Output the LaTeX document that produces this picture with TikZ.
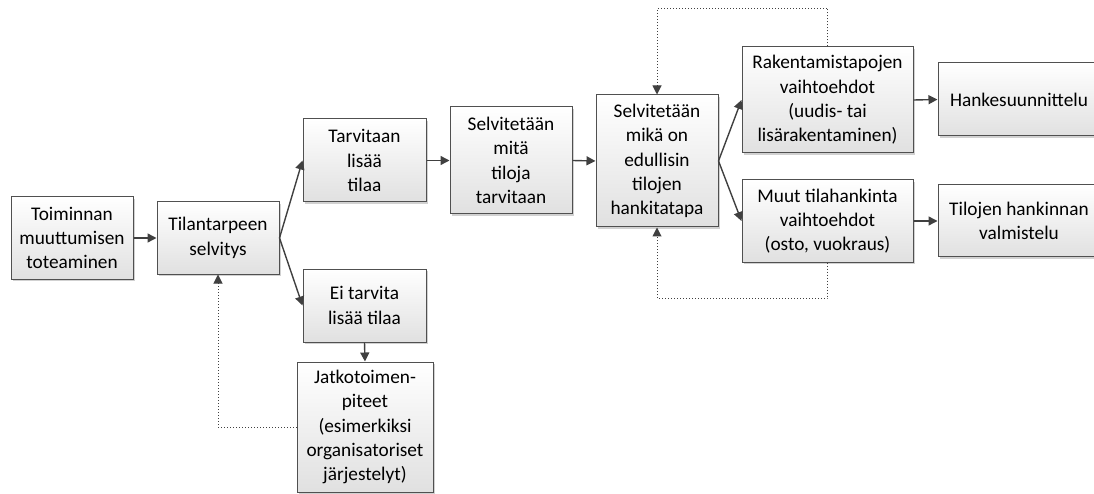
\documentclass[tikz,border=0pt]{standalone}
\usepackage{fontspec}
\setmainfont{Carlito}
\usetikzlibrary{arrows.meta,shadows}
\definecolor{edge}{HTML}{505050}
\definecolor{arr}{HTML}{404040}
\tikzset{
  box/.style={draw=edge, line width=1pt, rectangle, inner sep=0pt, align=center,
    top color=white, bottom color=black!12, font=\fontsize{19.3}{24.3}\selectfont,
    drop shadow={shadow xshift=2pt, shadow yshift=-2pt, fill=black, opacity=0.18}},
  flow/.style={draw=arr, line width=1.4pt, -{Triangle[length=9pt,width=9pt]}},
  loop/.style={draw=arr, line width=1pt, dotted, -{Triangle[length=9pt,width=9pt]}}
}
\begin{document}
\begin{tikzpicture}[x=1pt,y=-1pt]
\useasboundingbox (0,0) rectangle (1094,494);
\begin{scope}
\clip (0,0) rectangle (1094,494);
\node[box, minimum width=122pt, minimum height=82pt] (toim) at (72,238) {Toiminnan\\muuttumisen\\toteaminen};
\node[box, minimum width=122pt, minimum height=72pt] (tilan) at (218,238) {Tilantarpeen\\selvitys};
\node[box, minimum width=123pt, minimum height=83pt] (tarv) at (364.5,160.5) {Tarvitaan\\lisää\\tilaa};
\node[box, minimum width=123pt, minimum height=73pt] (ei) at (364.5,305.5) {Ei tarvita\\lisää tilaa};
\node[box, minimum width=136pt, minimum height=130pt] (jatko) at (365,427) {Jatkotoimen-\\piteet\\(esimerkiksi\\organisatoriset\\järjestelyt)};
\node[box, minimum width=122pt, minimum height=107pt] (mita) at (511,160.5) {Selvitetään\\mitä\\tiloja\\tarvitaan};
\node[box, minimum width=122pt, minimum height=132pt] (mika) at (657,161) {Selvitetään\\mikä on\\edullisin\\tilojen\\hankitatapa};
\node[box, minimum width=171pt, minimum height=106pt] (rak) at (827.5,100) {Rakentamistapojen\\vaihtoehdot\\(uudis- tai\\lisärakentaminen)};
\node[box, minimum width=171pt, minimum height=82pt] (muut) at (827.5,221) {Muut tilahankinta\\vaihtoehdot\\(osto, vuokraus)};
\node[box, minimum width=162pt, minimum height=73pt] (hanke) at (1019,99.5) {Hankesuunnittelu};
\node[box, minimum width=162pt, minimum height=72pt] (tiloj) at (1019,221) {Tilojen hankinnan\\valmistelu};
\end{scope}
\draw[flow] (toim.east) -- (tilan.west);
\draw[flow] (tilan.east) -- (tarv.west);
\draw[flow] (tilan.east) -- (ei.west);
\draw[flow] (ei.south) -- (jatko.north);
\draw[flow] (tarv.east) -- (mita.west);
\draw[flow] (mita.east) -- (mika.west);
\draw[flow] (mika.east) -- (rak.west);
\draw[flow] (mika.east) -- (muut.west);
\draw[flow] (rak.east) -- (hanke.west);
\draw[flow] (muut.east) -- (tiloj.west);
\coordinate (c1) at (tilan.south |- jatko.west);
\draw[loop] (jatko.west) -- (c1) -- (tilan.south);
\coordinate (c2) at ([yshift=38pt]rak.north);
\coordinate (c3) at (mika.north |- c2);
\draw[loop] (rak.north) -- (c2) -- (c3) -- (mika.north);
\coordinate (c4) at ([yshift=-36pt]muut.south);
\coordinate (c5) at (mika.south |- c4);
\draw[loop] (muut.south) -- (c4) -- (c5) -- (mika.south);
\end{tikzpicture}
\end{document}
